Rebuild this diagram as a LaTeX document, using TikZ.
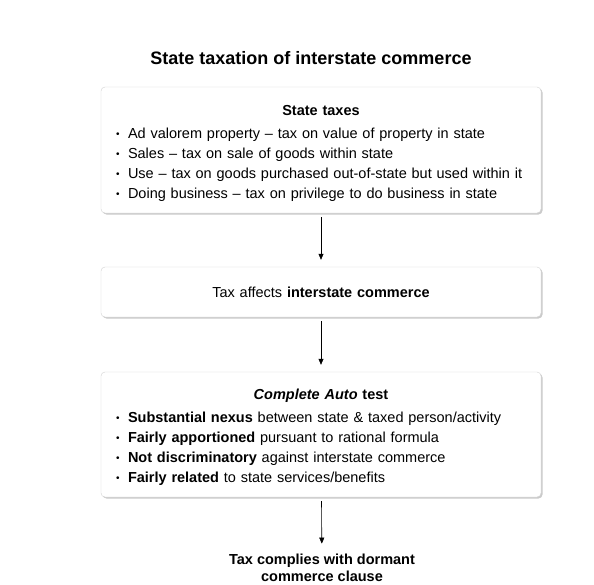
\documentclass[tikz,border=0pt]{standalone}
\usepackage{fontspec}
\setmainfont{Liberation Sans}
\usetikzlibrary{arrows.meta,positioning,shadows}

\newcommand{\itembul}{\makebox[12pt][l]{\raisebox{1.2pt}{\fontsize{10}{10}\selectfont•}}}

\begin{document}
\begin{tikzpicture}[
    x=1pt, y=-1pt,
    font=\fontsize{14.5}{20}\selectfont,
    box/.style={draw=gray!35, rounded corners=4pt, fill=white, minimum width=440pt,
      text width=410pt, align=left, inner sep=0pt,
      drop shadow={shadow xshift=1.5pt, shadow yshift=-1.5pt, fill=gray!70, opacity=.6}},
    arr/.style={-{Triangle[length=6pt,width=5pt]}, semithick, shorten <=4pt, shorten >=7pt},
  ]
    \useasboundingbox (0,0) rectangle (594,584);

    \node[font=\fontsize{18}{20}\selectfont\bfseries] (title) at (311,58) {State taxation of interstate commerce};

    \node[box, minimum height=126pt] (taxes) at (321,150) {%
      \makebox[\hsize]{\rule{0pt}{16.6pt}\textbf{State taxes}}\\[3pt]
      \itembul Ad valorem property -- tax on value of property in state\\
      \itembul Sales -- tax on sale of goods within state\\
      \itembul Use -- tax on goods purchased out-of-state but used within it\\
      \itembul Doing business -- tax on privilege to do business in state};

    \node[box, minimum height=50pt, align=center] (affects) at (321,292) {Tax affects \textbf{interstate commerce}};

    \node[box, minimum height=125pt] (test) at (321,434.5) {%
      \makebox[\hsize]{\rule{0pt}{15.5pt}\textbf{\textit{Complete Auto} test}}\\[3pt]
      \itembul \textbf{Substantial nexus} between state \& taxed person/activity\\
      \itembul \textbf{Fairly apportioned} pursuant to rational formula\\
      \itembul \textbf{Not discriminatory} against interstate commerce\\
      \itembul \textbf{Fairly related} to state services/benefits};

    \node[font=\fontsize{14.5}{17}\selectfont\bfseries, align=center] (clause) at (322,568) {Tax complies with dormant\\commerce clause};

    \draw[arr] (taxes) -- (affects);
    \draw[arr] (affects) -- (test);
    \draw[arr] (test) -- (clause);
  \end{tikzpicture}
\end{document}
